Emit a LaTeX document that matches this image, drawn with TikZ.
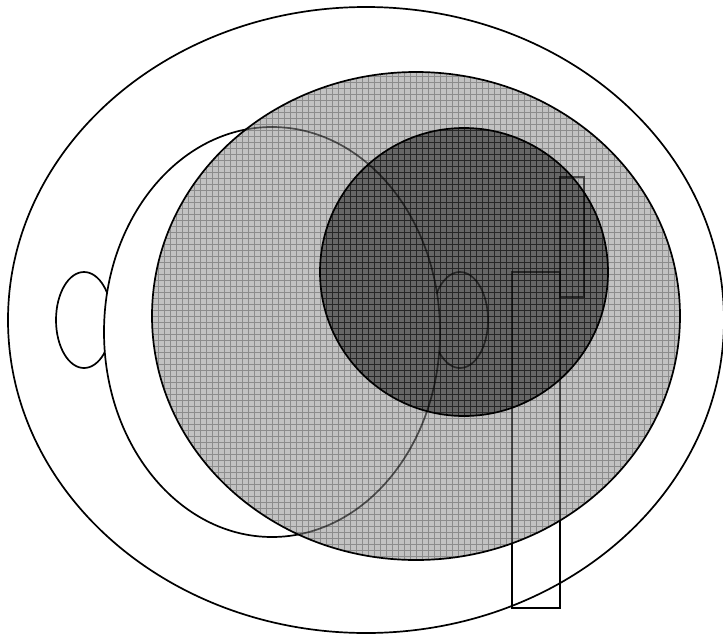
\documentclass[tikz,border=0pt]{standalone}
\begin{document}
\begin{tikzpicture}[x=1pt,y=-1pt,
  outline/.style={draw=black,line width=1.7pt},
  ghost/.style={draw=black,line width=1.7pt,draw opacity=0.6},
  lightgrid/.style={draw=black!45,line width=0.7pt},
  darkgrid/.style={draw=black!85,line width=0.8pt}]
\useasboundingbox (0,0) rectangle (723,635);
% outer ellipse
\draw[outline,fill=white] (366,320) ellipse [x radius=358, y radius=313];
% small left ellipse
\draw[outline,fill=white] (84,320) ellipse [x radius=28, y radius=48];
% small inner ellipse and rectangles (beneath the shaded shapes)
\draw[outline] (460,320) ellipse [x radius=28, y radius=48];
\draw[outline] (512,272) rectangle (560,608);
\draw[outline] (560,177) rectangle (584,297);
% middle ellipse (hides part of the small ellipses)
\draw[outline,fill=white] (272,332) ellipse [x radius=168, y radius=205];
% light grey ellipse
\fill[black!24] (416,316) ellipse [x radius=264, y radius=244];
\begin{scope}
  \clip (416,316) ellipse [x radius=264, y radius=244];
  \foreach \i in {0,...,90} {
    \draw[lightgrid] (152+6*\i,60) -- (152+6*\i,570);
  }
  \foreach \j in {0,...,84} {
    \draw[lightgrid] (140,70+6*\j) -- (690,70+6*\j);
  }
\end{scope}
% dark circle
\fill[black!60] (464,272) ellipse [x radius=144, y radius=144];
\begin{scope}
  \clip (464,272) ellipse [x radius=144, y radius=144];
  \foreach \i in {0,...,50} {
    \draw[darkgrid] (320+6*\i,120) -- (320+6*\i,420);
  }
  \foreach \j in {0,...,50} {
    \draw[darkgrid] (310,124+6*\j) -- (615,124+6*\j);
  }
\end{scope}
% lines seen through the shaded shapes
\begin{scope}
  \clip (416,316) ellipse [x radius=264, y radius=244];
  \draw[ghost] (272,332) ellipse [x radius=168, y radius=205];
  \draw[ghost] (512,272) rectangle (560,608);
  \draw[ghost] (560,177) rectangle (584,297);
  \begin{scope}[even odd rule]
    \clip (0,0) rectangle (723,635) (272,332) ellipse [x radius=168, y radius=205];
    \draw[ghost] (460,320) ellipse [x radius=28, y radius=48];
  \end{scope}
\end{scope}
% shaded outlines
\draw[outline] (416,316) ellipse [x radius=264, y radius=244];
\draw[outline] (464,272) ellipse [x radius=144, y radius=144];
\end{tikzpicture}
\end{document}
